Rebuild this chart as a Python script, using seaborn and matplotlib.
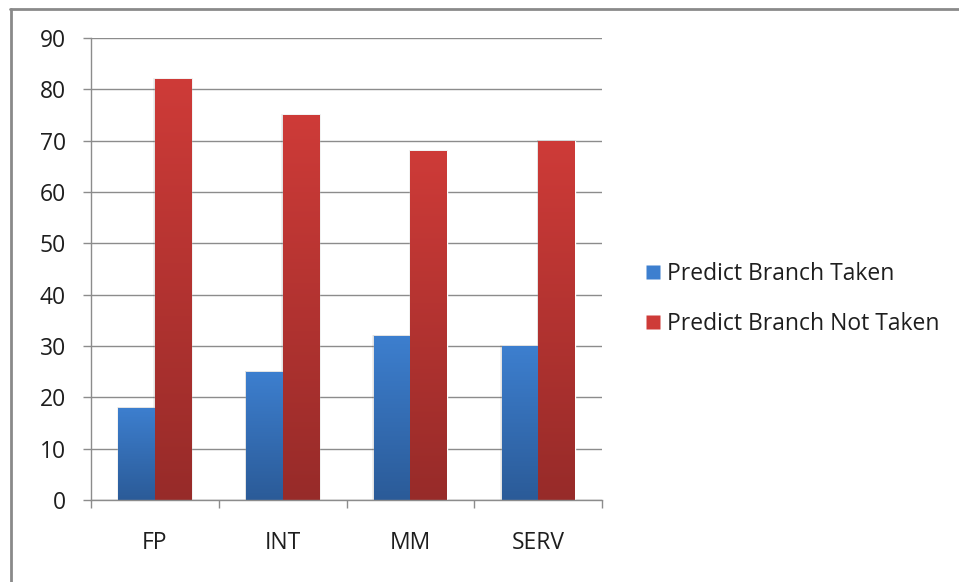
import numpy as np
import pandas as pd
import matplotlib
matplotlib.use("Agg")
import matplotlib.pyplot as plt
import seaborn as sns
from matplotlib.colors import LinearSegmentedColormap
from matplotlib.lines import Line2D
from matplotlib.patches import Rectangle

# Benchmark categories and misprediction percentages per strategy
categories = ["FP", "INT", "MM", "SERV"]
taken = [18, 25, 32, 30]
not_taken = [82, 75, 68, 70]
series_names = ["Predict Branch Taken", "Predict Branch Not Taken"]
y_ticks = [0, 10, 20, 30, 40, 50, 60, 70, 80, 90]

df = pd.DataFrame({
    "category": categories * 2,
    "value": taken + not_taken,
    "series": [series_names[0]] * 4 + [series_names[1]] * 4,
})

# top / bottom colours of each bar gradient
grad = {
    series_names[0]: ("#3d7fcf", "#2b5b98"),
    series_names[1]: ("#ce3b38", "#972b29"),
}

sns.set_theme(style="white")
plt.rcParams["font.family"] = ["Open Sans", "DejaVu Sans"]
FS = 16.5
TXT = "#1e1e1e"

fig = plt.figure(figsize=(9.59, 5.82), dpi=100)
ax = fig.add_axes([91 / 959, 1 - 500 / 582, (602 - 91) / 959, (500 - 38) / 582])

sns.barplot(data=df, x="category", y="value", hue="series", order=categories,
            hue_order=series_names, width=0.57, palette=[grad[s][0] for s in series_names],
            ax=ax, legend=False, saturation=1)

ax.set_xlim(-0.5, 3.5)
ax.set_ylim(0, 90)
ax.set_yticks(y_ticks)

# replace flat fills with vertical gradients clipped to each bar
n = len(categories)
for i, patch in enumerate(ax.patches[:2 * n]):
    s = series_names[i // n]
    top, bot = grad[s]
    cmap = LinearSegmentedColormap.from_list("g", [bot, top])
    x0, y0 = patch.get_x(), patch.get_y()
    w, h = patch.get_width(), patch.get_height()
    # soft shadow
    for k, a in [(0.012, 0.06), (0.006, 0.08)]:
        sh = Rectangle((x0 - k, y0), w + 2 * k, h + k * 12, facecolor="#000000",
                       alpha=a, edgecolor="none", zorder=1.5)
        ax.add_patch(sh)
    patch.set_zorder(2)
    grd = np.linspace(0, 1, 256).reshape(-1, 1)
    im = ax.imshow(grd, cmap=cmap, origin="lower", aspect="auto",
                   extent=(x0, x0 + w, y0, y0 + h), zorder=2.1)
    im.set_clip_path(patch)
ax.set_xlim(-0.5, 3.5)
ax.set_ylim(0, 90)

grid_c = "#8c8c8c"
ax.set_axisbelow(True)
ax.yaxis.grid(True, color=grid_c, linewidth=1.0)
ax.xaxis.grid(False)
for side in ["top", "right"]:
    ax.spines[side].set_visible(False)
for side in ["left", "bottom"]:
    ax.spines[side].set_color(grid_c)
    ax.spines[side].set_linewidth(1.0)

ax.set_xlabel("")
ax.set_ylabel("")
ax.tick_params(axis="y", which="major", length=6, width=1.0, color=grid_c,
               left=True, labelsize=FS, labelcolor=TXT, pad=12)
ax.tick_params(axis="x", which="major", length=0, labelsize=FS,
               labelcolor=TXT, pad=22)
ax.set_xticks([-0.5, 0.5, 1.5, 2.5, 3.5], minor=True)
ax.tick_params(axis="x", which="minor", length=6, width=1.0, color=grid_c, bottom=True)

# legend
handles = [Line2D([0], [0], marker="s", linestyle="none", markersize=10,
                  markerfacecolor=grad[s][0], markeredgecolor="none") for s in series_names]
fig.legend(handles, series_names, loc="center left", bbox_to_anchor=(645 / 959, 1 - 299 / 582),
           frameon=False, fontsize=FS, labelspacing=1.15, handletextpad=0.26,
           handlelength=0.7, borderpad=0, borderaxespad=0, labelcolor=TXT)

# outer chart border (top and left visible)
fig.add_artist(Line2D([10 / 959, 1.0], [1 - 8.5 / 582] * 2, color="#8a8a8a", linewidth=2))
fig.add_artist(Line2D([10.5 / 959] * 2, [0.0, 1 - 8.5 / 582], color="#8a8a8a", linewidth=2))

fig.savefig("out.png", dpi=100, facecolor="white")
